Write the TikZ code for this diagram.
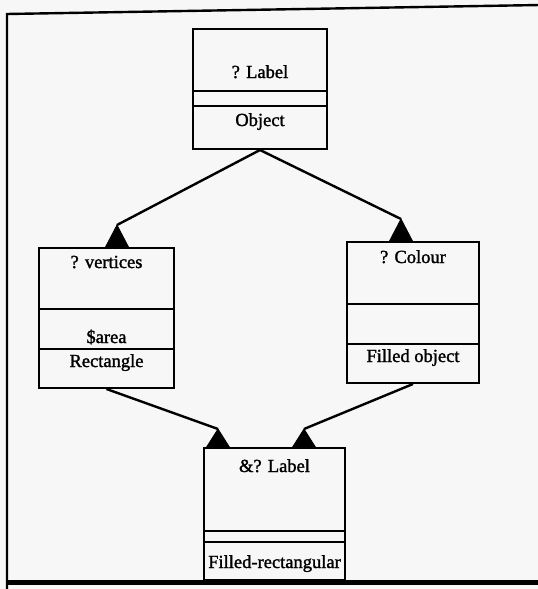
\documentclass[tikz,border=0pt]{standalone}
\usepackage{fontspec}
\setmainfont{Liberation Serif}
\newfontfamily\inkfont{Liberation Serif}[UprightFeatures={FakeBold=1.5}]
\usetikzlibrary{calc}
\begin{document}
\begin{tikzpicture}[x=1pt,y=-1pt,
  umlbox/.style={draw, line width=2pt, rectangle, inner sep=0pt},
  lbl/.style={font=\inkfont\fontsize{18.5}{21}\selectfont, anchor=base, inner sep=0pt},
  divider/.style={line width=2pt},
  link/.style={line width=2.4pt},
  head/.style={fill=black, draw=black, line width=0.8pt, line join=miter}]
% paper
\fill[black!3] (0,0) rectangle (538,589);
\useasboundingbox (0,0) rectangle (538,589);
% outer frame
\draw[line width=2.4pt] (7,590) -- (7,14) -- (540,5);
\draw[line width=5pt] (7,582) -- (540,582);

% class boxes
\node[umlbox, minimum width=134pt, minimum height=120pt] (obj) at (260,89) {};
\node[umlbox, minimum width=135pt, minimum height=140pt] (rect) at (106.5,318) {};
\node[umlbox, minimum width=132pt, minimum height=141pt] (fill) at (413,312.5) {};
\node[umlbox, minimum width=141pt, minimum height=132pt] (frect) at (274.5,514) {};

% compartment dividers
\draw[divider] ($(obj.north west)+(0,63)$) -- ($(obj.north east)+(0,63)$);
\draw[divider] ($(obj.north west)+(0,78)$) -- ($(obj.north east)+(0,78)$);
\draw[divider] ($(rect.north west)+(0,62)$) -- ($(rect.north east)+(0,62)$);
\draw[divider] ($(rect.north west)+(0,102)$) -- ($(rect.north east)+(0,102)$);
\draw[divider] ($(fill.north west)+(0,63)$) -- ($(fill.north east)+(0,63)$);
\draw[divider] ($(fill.north west)+(0,103)$) -- ($(fill.north east)+(0,103)$);
\draw[divider] ($(frect.north west)+(0,84)$) -- ($(frect.north east)+(0,84)$);
\draw[divider] ($(frect.north west)+(0,95)$) -- ($(frect.north east)+(0,95)$);

% labels
\node[lbl] (objname) at (260,78) {? Label};
\node[lbl] (objcls) at (260,126) {Object};
\node[lbl] (rectname) at (106.5,268) {? vertices};
\node[lbl] (rectarea) at (106.5,343) {\$area};
\node[lbl] (rectcls) at (106.5,367) {Rectangle};
\node[lbl] (fillname) at (413,263) {? Colour};
\node[lbl] (fillcls) at (413,362) {Filled object};
\node[lbl] (frectname) at (274.5,472) {\&? Label};
\node[lbl] (frectcls) at (274.5,568) {Filled-rectangular};

% inheritance links
\coordinate (tipA) at (117,225);
\coordinate (tipB) at (401,219);
\coordinate (tipC) at (218,429);
\coordinate (tipD) at (304,429);
\draw[link] (obj.south) -- (tipA);
\draw[link] (obj.south) -- (tipB);
\draw[link] (rect.south) -- (tipC);
\draw[link] (fill.south) -- (tipD);
\fill[head] (tipA) -- ++(-12,23) -- ++(24,0) -- cycle;
\fill[head] (tipB) -- ++(-12,23) -- ++(24,0) -- cycle;
\fill[head] (tipC) -- ++(-12,19) -- ++(24,0) -- cycle;
\fill[head] (tipD) -- ++(-12,19) -- ++(24,0) -- cycle;
\end{tikzpicture}
\end{document}
